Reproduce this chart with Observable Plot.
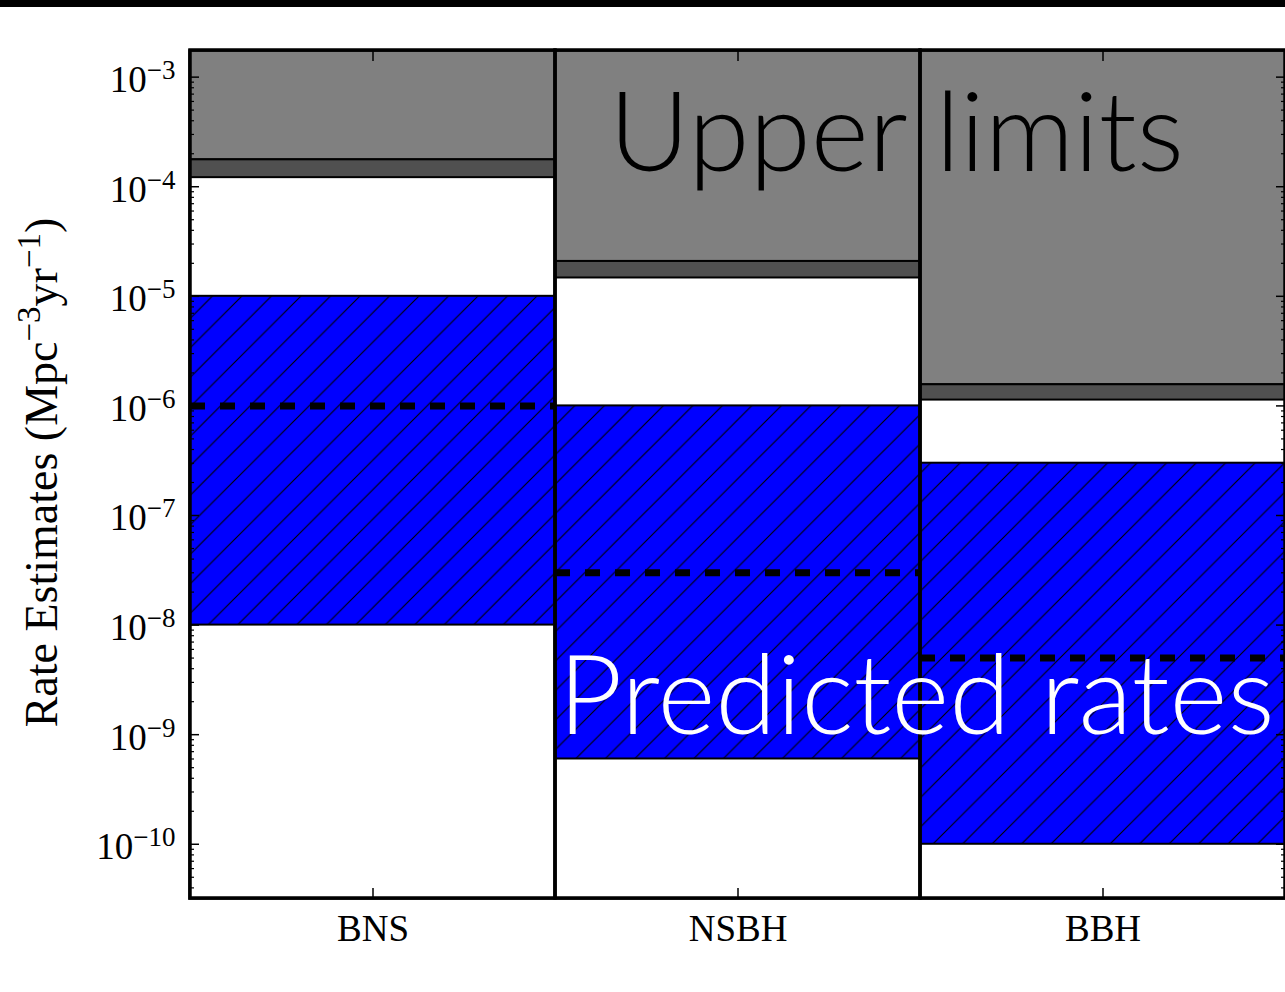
<!DOCTYPE html>
<html><head><meta charset="utf-8">
<script src="https://cdn.jsdelivr.net/npm/d3@7"></script>
<script src="https://cdn.jsdelivr.net/npm/@observablehq/plot@0.6"></script>
<style>
html,body{margin:0;padding:0;background:#fff;overflow:hidden;}
#topbar{height:7px;background:#000;width:1285px;}
</style></head><body>
<div id="topbar"></div>
<div id="chart"></div>
<script>
// ---- data ----
const categories = ["BNS", "NSBH", "BBH"];
const upperLimitHigh = [1.76e-4, 2.08e-5, 1.56e-6];
const upperLimitLow  = [1.21e-4, 1.47e-5, 1.13e-6];
const predictedLow    = [1e-8, 6e-10, 1e-10];
const predictedHigh   = [1e-5, 1e-6, 3e-7];
const predictedMedian = [1e-6, 3e-8, 5e-9];
const yDomain = [3.2e-11, 1.75e-3];
const majorTicks = [1e-10, 1e-9, 1e-8, 1e-7, 1e-6, 1e-5, 1e-4, 1e-3];
const minorMultipliers = [2, 3, 4, 5, 6, 7, 8, 9];
const yLabel = "Rate Estimates (Mpc^-3yr^-1)";
const annotationUpper = "Upper limits";
const annotationPredicted = "Predicted rates";

const rows = categories.map((cat, i) => ({
  cat,
  hi: upperLimitHigh[i], lo: upperLimitLow[i],
  pl: predictedLow[i], ph: predictedHigh[i], pm: predictedMedian[i],
  top: yDomain[1], bottom: yDomain[0]
}));
const minorTicks = [1e-11, ...majorTicks].flatMap(d => minorMultipliers.map(k => d * k))
  .filter(v => v > yDomain[0] && v < yDomain[1]);

const serif = "'Liberation Serif', 'DejaVu Serif', serif";
const sans = "Lato, 'Open Sans', sans-serif";

const svg = Plot.plot({
  width: 1285,
  height: 985,
  marginLeft: 189,
  marginRight: 0,
  marginTop: 43,
  marginBottom: 94,
  x: {type: "band", domain: categories, padding: 0, axis: null},
  y: {type: "log", domain: yDomain, axis: null},
  marks: [
    // upper limits
    Plot.barY(rows, {x: "cat", y1: "hi", y2: "top", fill: "#808080", stroke: "#000", strokeWidth: 2}),
    Plot.barY(rows, {x: "cat", y1: "lo", y2: "hi", fill: "#505050", stroke: "#000", strokeWidth: 2}),
    // predicted ranges
    Plot.barY(rows, {x: "cat", y1: "pl", y2: "ph", fill: "#0000ff"}),
    Plot.barY(rows, {x: "cat", y1: "pl", y2: "ph", fill: "url(#hatch)", stroke: "#000", strokeWidth: 2}),
    // median
    Plot.tickY(rows, {x: "cat", y: "pm", stroke: "#000", strokeWidth: 7, strokeDasharray: "15,15"}),
    // column separators
    Plot.barY(rows, {x: "cat", y1: "bottom", y2: "top", fill: "none", stroke: "#000", strokeWidth: 3.5}),
    // axes
    Plot.axisY(majorTicks, {anchor: "left", tickSize: 0, tickPadding: 14, label: null,
      tickFormat: d => "10^" + Math.round(Math.log10(d)), fontSize: 37, fontFamily: serif, fill: "#000", dy: 3}),
    Plot.axisY(majorTicks, {anchor: "left", tickSize: -10, fill: "none", label: null, stroke: "#000", strokeWidth: 1.5}),
    Plot.axisY(minorTicks, {anchor: "left", tickSize: -5, fill: "none", label: null, stroke: "#000", strokeWidth: 1.2}),
    Plot.axisY(majorTicks, {anchor: "right", tickSize: -10, fill: "none", label: null, stroke: "#000", strokeWidth: 1.5}),
    Plot.axisY(minorTicks, {anchor: "right", tickSize: -5, fill: "none", label: null, stroke: "#000", strokeWidth: 1.2}),
    Plot.axisX({anchor: "bottom", tickSize: 0, tickPadding: 16, label: null, fontSize: 37, fontFamily: serif, fill: "#000"}),
    Plot.axisX({anchor: "bottom", tickSize: -10, fill: "none", label: null, stroke: "#000", strokeWidth: 1.5}),
    Plot.axisX({anchor: "top", tickSize: -10, fill: "none", label: null, stroke: "#000", strokeWidth: 1.5}),
    Plot.frame({stroke: "#000", strokeWidth: 2.5}),
    // y label
    Plot.text([yLabel], {frameAnchor: "left", textAnchor: "middle", lineAnchor: "middle", dx: -147, dy: -2, rotate: -90,
      fontSize: 46, fontFamily: serif, fill: "#000"}),
    // annotations
    Plot.text([annotationUpper], {frameAnchor: "top", textAnchor: "middle", lineAnchor: "middle", dx: 159, dy: 85,
      fontSize: 111, fontFamily: sans, fontWeight: 300, fill: "#000"}),
    Plot.text([annotationPredicted], {frameAnchor: "bottom", textAnchor: "middle", lineAnchor: "middle", dx: 179, dy: -200,
      fontSize: 111, fontFamily: sans, fontWeight: 300, fill: "#fff"})
  ]
});

const NS = "http://www.w3.org/2000/svg";
const defs = document.createElementNS(NS, "defs");
defs.innerHTML = `<pattern id="hatch" patternUnits="userSpaceOnUse" width="29.5" height="29.5">
  <path d="M-2,2 L2,-2 M0,29.5 L29.5,0 M27.5,31.5 L31.5,27.5" stroke="#000" stroke-width="1.1" fill="none"/></pattern>`;
svg.insertBefore(defs, svg.firstChild);

function superscriptify(textEl, supScale, riseScale) {
  const s = textEl.textContent;
  if (!s.includes("^")) return;
  const fs = parseFloat(getComputedStyle(textEl).fontSize) || 37;
  const supSize = Math.round(fs * supScale);
  const rise = Math.round(fs * riseScale);
  const parts = s.split(/\^(-?\d+)/);
  textEl.textContent = "";
  parts.forEach((p, i) => {
    if (p === "") return;
    const t = document.createElementNS(NS, "tspan");
    if (i % 2 === 1) {
      t.setAttribute("font-size", supSize);
      t.setAttribute("dy", -rise);
      t.textContent = p.replace("-", "\u2212");
    } else {
      if (i > 0) t.setAttribute("dy", rise);
      t.textContent = p;
    }
    textEl.appendChild(t);
  });
}
document.getElementById("chart").appendChild(svg);
svg.querySelectorAll("text").forEach(t => superscriptify(t, 0.72, 0.36));
</script>
</body></html>
